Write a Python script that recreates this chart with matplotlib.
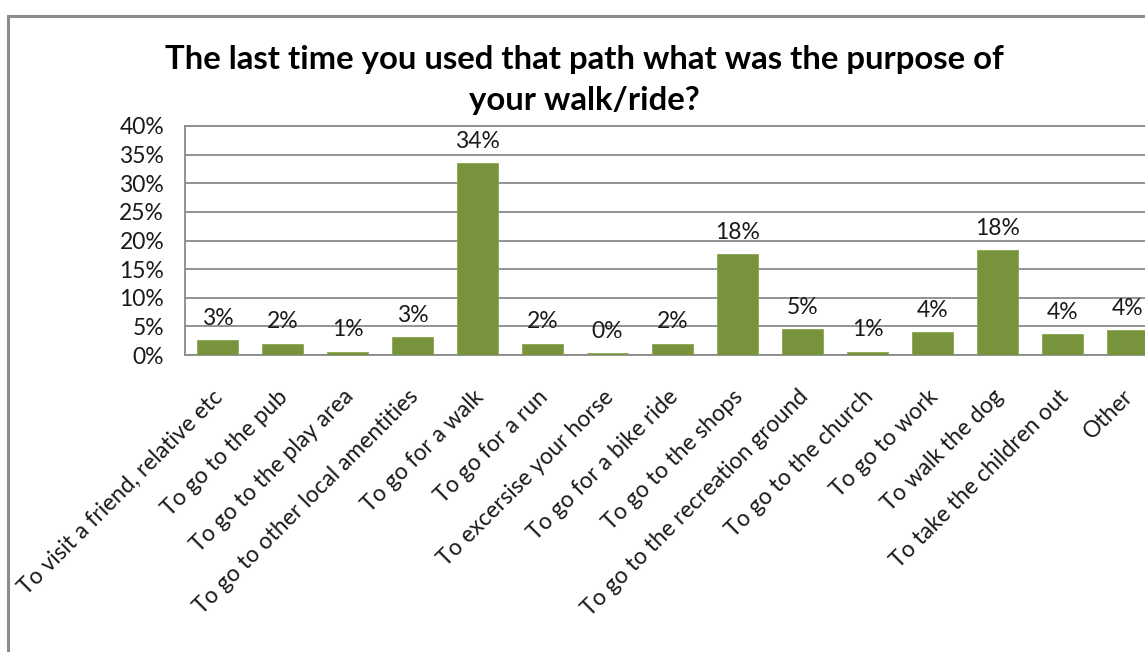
import matplotlib
matplotlib.use("Agg")
import matplotlib.pyplot as plt
from matplotlib.patches import Rectangle
from matplotlib.ticker import FuncFormatter
import matplotlib.transforms as mtransforms

# Survey responses: purpose of the last walk/ride on the path
categories = [
    "To visit a friend, relative etc",
    "To go to the pub",
    "To go to the play area",
    "To go to other local amentities",
    "To go for a walk",
    "To go for a run",
    "To excersise your horse",
    "To go for a bike ride",
    "To go to the shops",
    "To go to the recreation ground",
    "To go to the church",
    "To go to work",
    "To walk the dog",
    "To take the children out",
    "Other",
]
shares = [0.026, 0.020, 0.006, 0.031, 0.336, 0.020, 0.004, 0.020,
          0.176, 0.046, 0.006, 0.040, 0.184, 0.037, 0.044]
y_ticks = [0.00, 0.05, 0.10, 0.15, 0.20, 0.25, 0.30, 0.35, 0.40]

title_lines = ["The last time you used that path what was the purpose of",
               "your walk/ride?"]

W, H = 1145, 652
DPI = 100
plt.rcParams["font.family"] = ["Lato", "DejaVu Sans"]

fig = plt.figure(figsize=(W / DPI, H / DPI), dpi=DPI)
fig.patch.set_facecolor("white")

# outer chart frame (runs past the right and bottom edges)
frame = Rectangle((8 / W, -0.2), 1.5, 1 - 16 / H + 0.2,
                  transform=fig.transFigure, fill=False,
                  edgecolor="#8c8c8c", linewidth=2.2)
fig.patches.append(frame)

# plot area: 65 px per category, wider than the figure on the right
left_px, top_px, bottom_px, step_px = 185, 126, 355, 65
n = len(categories)
ax = fig.add_axes([left_px / W, 1 - bottom_px / H,
                   n * step_px / W, (bottom_px - top_px) / H])

grid_col = "#8a8a8a"
text_col = "#1a1a1a"
x = list(range(n))
ax.bar(x, shares, width=0.62, color="#77933C", edgecolor="#8aa654",
       linewidth=0.6, zorder=3)

ax.set_xlim(-0.5, n - 0.5)
ax.set_ylim(0, 0.40)
ax.set_yticks(y_ticks)
ax.yaxis.set_major_formatter(FuncFormatter(lambda v, _: f"{v * 100:.0f}%"))
ax.grid(axis="y", color=grid_col, linewidth=1.3, zorder=0)
ax.set_axisbelow(True)
for side in ("left", "bottom", "top", "right"):
    ax.spines[side].set_color(grid_col)
    ax.spines[side].set_linewidth(1.3)

ax.tick_params(axis="y", length=0, pad=15, labelsize=16.5, labelcolor=text_col)
ax.set_xticks(x)
ax.set_xticklabels([])
ax.tick_params(axis="x", length=0)

# slanted category labels, ending just below-right of each bar centre
cat_tr = (mtransforms.blended_transform_factory(ax.transData, ax.transAxes)
          + mtransforms.ScaledTranslation(7 / DPI, -43 / DPI,
                                          fig.dpi_scale_trans))
for xi, name in zip(x, categories):
    ax.text(xi, 0, name, transform=cat_tr, rotation=45,
            rotation_mode="anchor", ha="right", va="baseline",
            fontsize=16.5, color=text_col, clip_on=False)

# value labels above each bar
for xi, v in zip(x, shares):
    ax.annotate(f"{v * 100:.0f}%", xy=(xi, v), xytext=(0, 8),
                textcoords="offset points", ha="center", va="bottom",
                fontsize=16.5, color=text_col, zorder=4)

title_cx = 584 / W
fig.text(title_cx, 1 - 69 / H, title_lines[0], ha="center", va="baseline",
         fontsize=23.7, fontweight="bold", color="black")
fig.text(title_cx, 1 - 110 / H, title_lines[1], ha="center", va="baseline",
         fontsize=23.7, fontweight="bold", color="black")

fig.savefig("out.png", dpi=DPI, facecolor="white")
